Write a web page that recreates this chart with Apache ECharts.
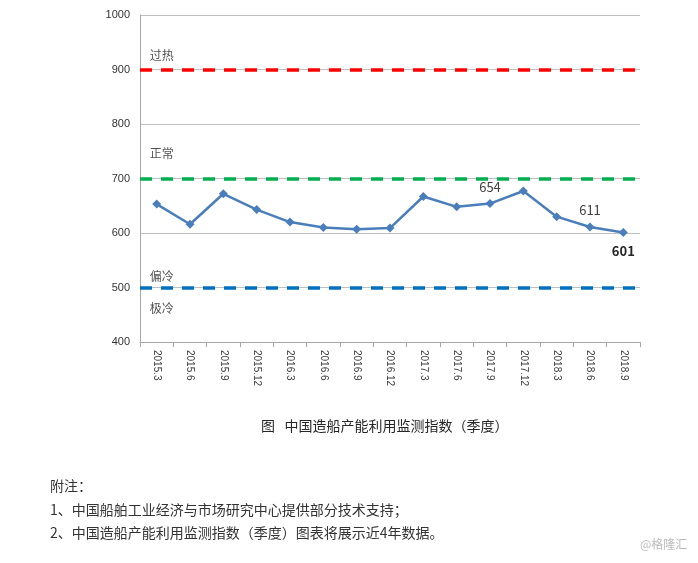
<!DOCTYPE html>
<html><head><meta charset="utf-8">
<script src="https://cdn.jsdelivr.net/npm/echarts@6/dist/echarts.min.js"></script>
<style>html,body{margin:0;padding:0;background:#fff}#c{width:698px;height:563px}</style>
</head><body><div id="c"></div>
<script>
var categories = ['2015.3','2015.6','2015.9','2015.12','2016.3','2016.6','2016.9','2016.12','2017.3','2017.6','2017.9','2017.12','2018.3','2018.6','2018.9'];
var indexValues = [653, 616, 672, 643, 620, 610, 607, 609, 667, 648, 654, 677, 630, 611, 601];
var labeledPoints = {10: 'normal', 13: 'normal', 14: 'bold'};
var thresholdValues = [900, 700, 500];
var thresholdColors = ['#FF0000', '#00B050', '#0070C0'];
var zoneNames = ['过热', '正常', '偏冷', '极冷'];
var zoneLabelValues = [926, 746, 521, 462];
var caption = '图   中国造船产能利用监测指数（季度）';
var notes = ['附注：', '1、中国船舶工业经济与市场研究中心提供部分技术支持；', '2、中国造船产能利用监测指数（季度）图表将展示近4年数据。'];
var watermark = '@格隆汇';

var FONT = '"Noto Sans CJK SC", "Microsoft YaHei", sans-serif';
var chart = echarts.init(document.getElementById('c'), null, {renderer: 'canvas'});

var seriesData = indexValues.map(function (v, i) {
  var d = {value: v};
  if (labeledPoints[i] === 'normal') {
    d.label = {show: true, position: 'top', distance: 6, fontSize: 13, color: '#404040', fontFamily: FONT};
  } else if (labeledPoints[i] === 'bold') {
    d.label = {show: true, position: 'bottom', distance: 8, fontSize: 13, fontWeight: 'bold', color: '#262626', fontFamily: FONT};
  }
  return d;
});

var markLines = thresholdValues.map(function (v, i) {
  return {
    yAxis: v,
    lineStyle: {color: thresholdColors[i], type: [12, 9], width: 3.5},
    label: {show: false}
  };
});

var zoneData = zoneNames.map(function (n, i) {
  return [0, zoneLabelValues[i], n];
});

chart.setOption({
  animation: false,
  backgroundColor: '#fff',
  grid: {left: 140, top: 15, right: 58, bottom: 221, containLabel: false},
  xAxis: {
    type: 'category',
    data: categories,
    boundaryGap: true,
    axisLine: {lineStyle: {color: '#A6A6A6', width: 1}},
    axisTick: {show: true, length: 5, lineStyle: {color: '#A6A6A6'}},
    axisLabel: {rotate: -90, fontSize: 10, color: '#404040', fontFamily: 'Arial, "Liberation Sans", sans-serif', margin: 8, interval: 0}
  },
  yAxis: {
    type: 'value',
    min: 400, max: 1000, interval: 100,
    axisLine: {show: true, lineStyle: {color: '#A6A6A6', width: 1}},
    axisTick: {show: false},
    splitLine: {show: true, lineStyle: {color: '#BFBFBF', width: 1}},
    axisLabel: {fontSize: 11, color: '#333', fontFamily: 'Arial, "Liberation Sans", sans-serif', margin: 10,
      formatter: function (v) { return String(v); }}
  },
  series: [{
    type: 'line',
    data: seriesData,
    symbol: 'diamond',
    symbolSize: 9,
    lineStyle: {color: '#4A7EBB', width: 2.5},
    itemStyle: {color: '#4A7EBB'},
    z: 5,
    markLine: {silent: true, symbol: ['none', 'none'], data: markLines, z: 3}
  }, {
    type: 'scatter',
    data: zoneData,
    symbolSize: 1,
    itemStyle: {color: 'rgba(0,0,0,0)'},
    silent: true,
    z: 6,
    label: {show: true, position: 'inside', offset: [5, 0], fontSize: 12, color: '#262626', fontFamily: FONT,
      formatter: function (p) { return p.data[2]; }}
  }],
  graphic: [
    {type: 'text', left: 261, top: 419, style: {text: caption, fill: '#262626', font: '14px ' + FONT}},
    {type: 'text', left: 50, top: 479, style: {text: notes[0], fill: '#333', font: '14px ' + FONT}},
    {type: 'text', left: 50, top: 503, style: {text: notes[1], fill: '#333', font: '14px ' + FONT}},
    {type: 'text', left: 50, top: 526, style: {text: notes[2], fill: '#333', font: '14px ' + FONT}},
    {type: 'text', left: 640, top: 538, style: {text: watermark, fill: '#BBBBBB', font: '12px ' + FONT}}
  ]
});
</script></body></html>
